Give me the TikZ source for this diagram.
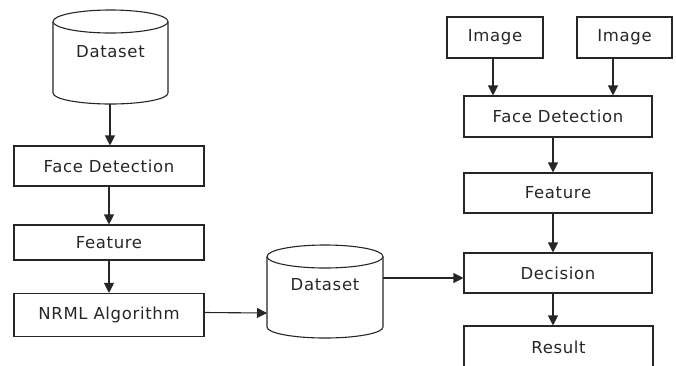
\documentclass[tikz,border=0pt]{standalone}
\usepackage{fontspec}
\setmainfont{DejaVu Sans}[LetterSpace=4]
\usetikzlibrary{arrows.meta,calc}
\begin{document}
\begin{tikzpicture}[x=1pt,y=-1pt,
  line width=1.1pt,
  every node/.style={font=\fontsize{16.5}{19}\selectfont, text=black!85},
  box/.style={draw=black!85, rectangle, inner sep=0pt},
  cyl/.style={draw=black!85},
  flow/.style={draw=black!85, -{Triangle[length=10pt,width=10pt]}}]
\useasboundingbox (0,0) rectangle (676,365);
\clip (0,0) rectangle (676,365);
% left column
\draw[cyl] (110.5,21.5) ellipse [x radius=57.5, y radius=11.5];
\draw[cyl] (53,21.5) -- (53,93) arc [start angle=180, end angle=0, x radius=57.5, y radius=11] -- (168,21.5);
\node (ds1) at (110.5,52) {Dataset};
\coordinate (ds1b) at (110,104);
\node[box, minimum width=190pt, minimum height=40pt] (fd1) at (109,166) {Face Detection};
\node[box, minimum width=190pt, minimum height=35pt] (ft1) at (109,242.5) {Feature};
\node[box, minimum width=190pt, minimum height=43pt] (nr) at (109,315) {NRML Algorithm};
% middle cylinder
\draw[cyl] (325,256.5) ellipse [x radius=58, y radius=11.5];
\draw[cyl] (267,256.5) -- (267,327) arc [start angle=180, end angle=0, x radius=58, y radius=11] -- (383,256.5);
\node (ds2) at (325,285) {Dataset};
\coordinate (ds2l) at (267,313);
\coordinate (ds2r) at (383,278);
% right column
\node[box, minimum width=96pt, minimum height=41pt] (im1) at (495,37.5) {Image};
\node[box, minimum width=95pt, minimum height=41pt] (im2) at (624.5,37.5) {Image};
\node[box, minimum width=188pt, minimum height=41pt] (fd2) at (558,116.5) {Face Detection};
\node[box, minimum width=188pt, minimum height=40pt] (ft2) at (558,193) {Feature};
\node[box, minimum width=188pt, minimum height=40pt] (dec) at (558,273) {Decision};
\node[box, minimum width=189pt, minimum height=60pt] (res) at (558.5,356) {};
\node (restext) at (558.5,347) {Result};
% connectors
\draw[flow] (ds1b) -- (ds1b |- fd1.north);
\draw[flow] (fd1.south) -- (ft1.north);
\draw[flow] (ft1.south) -- (nr.north);
\draw[flow] ([yshift=2.5pt]nr.east) -- (ds2l);
\draw[flow] (ds2r) -- (ds2r -| dec.west);
\coordinate (i1s) at ([xshift=-2pt]im1.south);
\coordinate (i2s) at ([xshift=-11.5pt]im2.south);
\draw[flow] (i1s) -- (i1s |- fd2.north);
\draw[flow] (i2s) -- (i2s |- fd2.north);
\coordinate (c1) at ([xshift=-5pt]fd2.south);
\coordinate (c2) at ([xshift=-5pt]ft2.south);
\coordinate (c3) at ([xshift=-5pt]dec.south);
\draw[flow] (c1) -- (c1 |- ft2.north);
\draw[flow] (c2) -- (c2 |- dec.north);
\draw[flow] (c3) -- (c3 |- res.north);
\end{tikzpicture}
\end{document}
